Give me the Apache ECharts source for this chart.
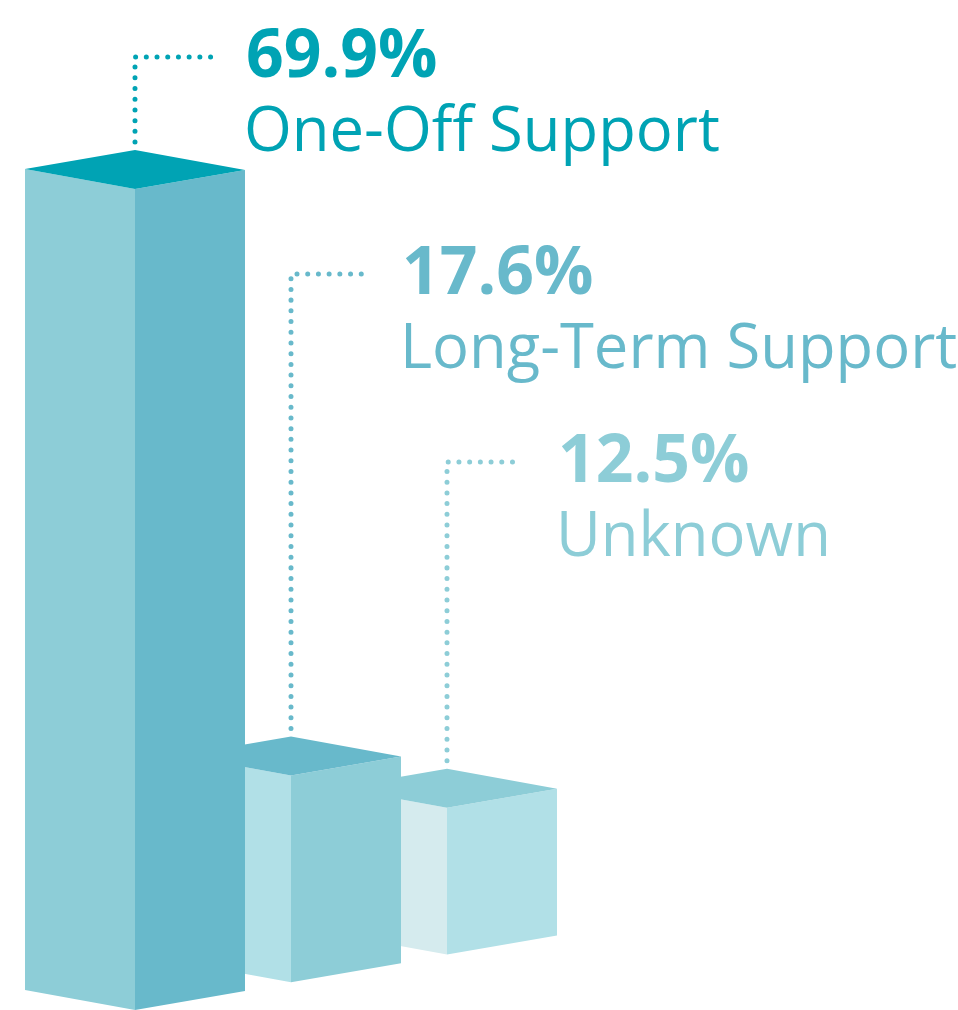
<!DOCTYPE html>
<html>
<head>
<meta charset="utf-8">
<script src="https://cdn.jsdelivr.net/npm/echarts@6/dist/echarts.min.js"></script>
<style>
  html, body { margin: 0; padding: 0; background: #fff; }
  #chart { width: 958px; height: 1010px; }
</style>
</head>
<body>
<div id="chart"></div>
<script>
// data
var categories = ['One-Off Support', 'Long-Term Support', 'Unknown'];
var shares = [69.9, 17.6, 12.5];

// colours per bar: top face, left face, right face, text
var topColors = ['#00a3b4', '#68b9cb', '#8dcdd7'];
var leftColors = ['#8dcdd7', '#b1e0e7', '#d5ebee'];
var rightColors = ['#68b9cb', '#8dcdd7', '#b1e0e7'];
var textColors = ['#00a3b4', '#68b9cb', '#8dcdd7'];
// y of the dotted leader for each label (layout)
var leaderY = [57, 274, 462];

var myChart = echarts.init(document.getElementById('chart'));

var seriesData = categories.map(function (c, i) {
    return [i, shares[i]];
});

var groundSlope = 0.178; // floor runs up to the right
var halfW = 110;

function renderBox(params, api) {
    var i = params.dataIndex;
    var x0 = api.coord([0, 0])[0];
    var base = api.coord([api.value(0), 0]);
    var top = api.coord([api.value(0), api.value(1)]);
    var x = base[0];
    var yB = base[1] - (x - x0) * groundSlope;
    var yT = yB - (base[1] - top[1]);
    var ly = leaderY[i];
    var z = 10 - i;
    return {
        type: 'group',
        children: [{
            type: 'polygon', z2: z,
            shape: { points: [[x, yT], [x - halfW, yT - 20], [x - halfW, yB - 20], [x, yB]] },
            style: { fill: leftColors[i] }
        }, {
            type: 'polygon', z2: z,
            shape: { points: [[x, yT], [x + halfW, yT - 19], [x + halfW, yB - 19], [x, yB]] },
            style: { fill: rightColors[i] }
        }, {
            type: 'polygon', z2: z,
            shape: { points: [[x, yT], [x - halfW, yT - 20], [x, yT - 39], [x + halfW, yT - 19]] },
            style: { fill: topColors[i] }
        }, {
            // dotted leader from the top of the bar to the label
            type: 'polyline', z2: 20,
            shape: { points: [[x, yT - 47], [x, ly], [x + 76, ly]] },
            style: {
                fill: null, stroke: textColors[i], lineWidth: 5,
                lineCap: 'round', lineDash: [0.01, 10.7]
            }
        }, {
            type: 'text', z2: 20,
            style: {
                text: shares[i].toFixed(1) + '%',
                x: x + halfW + 1, y: ly + 1,
                verticalAlign: 'middle',
                font: 'bold 66px "Open Sans"',
                fill: textColors[i]
            }
        }, {
            type: 'text', z2: 20,
            style: {
                text: categories[i],
                x: x + halfW - 1, y: ly + 76,
                verticalAlign: 'middle',
                font: '61.5px "Open Sans"',
                fill: textColors[i]
            }
        }]
    };
}

var option = {
    backgroundColor: '#fff',
    animation: false,
    grid: { left: 57, width: 468, top: 0, height: 1018 },
    xAxis: { type: 'category', data: categories, show: false },
    yAxis: { type: 'value', min: 0, max: 86, show: false },
    series: [{
        type: 'custom',
        renderItem: renderBox,
        data: seriesData
    }]
};

myChart.setOption(option);
</script>
</body>
</html>
